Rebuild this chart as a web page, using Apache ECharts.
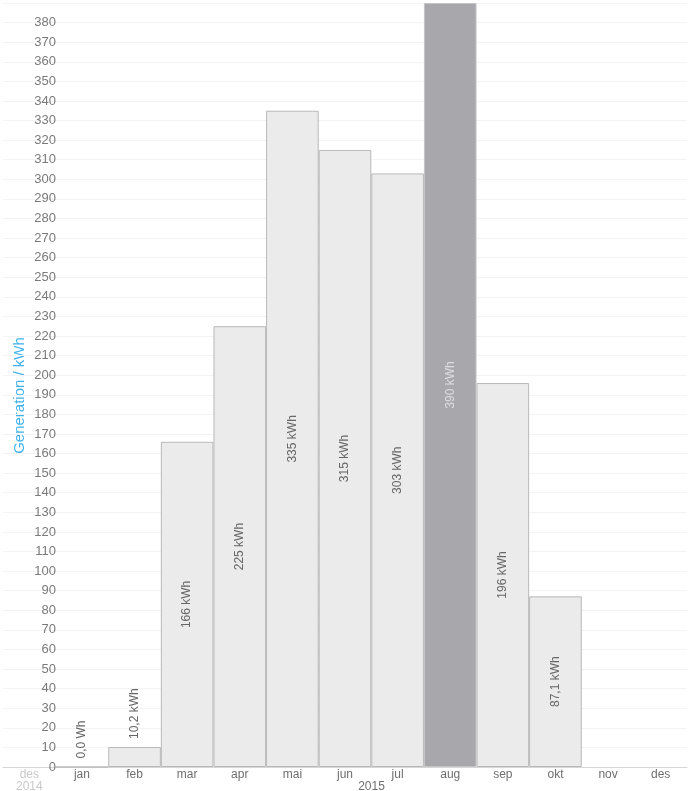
<!DOCTYPE html>
<html>
<head>
<meta charset="utf-8">
<script src="https://cdn.jsdelivr.net/npm/echarts@6/dist/echarts.min.js"></script>
<style>
  html, body { margin: 0; padding: 0; background: #fff; }
  #chart { width: 691px; height: 791px; }
</style>
</head>
<body>
<div id="chart"></div>
<script>
var months = ['des', 'jan', 'feb', 'mar', 'apr', 'mai', 'jun', 'jul', 'aug', 'sep', 'okt', 'nov', 'des'];
var years = ['2014', '', '', '', '', '', '2015', '', '', '', '', '', ''];
var generation = [null, 0, 10.2, 166, 225, 335, 315, 303, 390, 196, 87.1, null, null];
var highlightIndex = 8;

var chart = echarts.init(document.getElementById('chart'));
var font = 'Liberation Sans';

function fmtLabel(v) {
    if (v === 0) return '0,0 Wh';
    if (v < 100) return v.toFixed(1).replace('.', ',') + ' kWh';
    return Math.round(v) + ' kWh';
}

var barData = generation.map(function (v, i) {
    if (v == null) return null;
    var item = { value: v };
    if (i === highlightIndex) {
        item.itemStyle = { color: '#a8a7ac', borderColor: '#c4c4c7' };
        item.label = { color: '#dedee0' };
    }
    if (v < 50) {
        item.label = { position: 'top', distance: 8, align: 'left', verticalAlign: 'middle' };
    }
    return item;
});

var option = {
    backgroundColor: '#fff',
    animation: false,
    grid: { left: 3, right: 4, top: 3, bottom: 24, containLabel: false, outerBoundsMode: 'none' },
    graphic: [{
        type: 'text',
        left: 12,
        top: 'middle',
        rotation: Math.PI / 2,
        style: { text: 'Generation / kWh', fill: '#3fb2ee', font: '15px "Liberation Sans"' }
    }],
    xAxis: [
        {
            type: 'category',
            data: months.map(function (m, i) {
                return i === 0 ? { value: m, textStyle: { color: '#c8c8c8' } } : m;
            }),
            axisLine: { lineStyle: { color: '#d6d6d6' } },
            axisTick: { show: false },
            axisLabel: { color: '#6e6e6e', fontSize: 12, margin: 2, fontFamily: font }
        },
        {
            type: 'category',
            position: 'bottom',
            data: years.map(function (y, i) {
                if (i === 0) return { value: y, textStyle: { color: '#c8c8c8' } };
                if (y) return { value: '{s|' + y + '}' };
                return y;
            }),
            axisLine: { show: false },
            axisTick: { show: false },
            axisLabel: {
                color: '#6e6e6e', fontSize: 12, margin: 14, fontFamily: font, interval: 0,
                rich: { s: { padding: [0, 0, 0, 53], color: '#6e6e6e', fontSize: 12, fontFamily: font } }
            }
        }
    ],
    yAxis: {
        type: 'value',
        min: 0,
        max: 390,
        interval: 10,
        axisLine: { show: false },
        axisTick: { show: false },
        axisLabel: {
            inside: true, margin: 53, align: 'right', showMaxLabel: false,
            color: '#7a7a7a', fontSize: 13, fontFamily: font
        },
        splitLine: { lineStyle: { color: '#f3f3f3' } }
    },
    series: [
        {
            type: 'bar',
            xAxisIndex: 0,
            barCategoryGap: '0%',
            data: barData,
            itemStyle: { color: '#ebebeb', borderColor: '#b9b9b9', borderWidth: 1 },
            label: {
                show: true,
                position: 'inside',
                rotate: 90,
                color: '#666',
                fontSize: 12,
                fontFamily: font,
                formatter: function (p) { return fmtLabel(p.value); }
            }
        }
    ]
};

chart.setOption(option);
</script>
</body>
</html>
